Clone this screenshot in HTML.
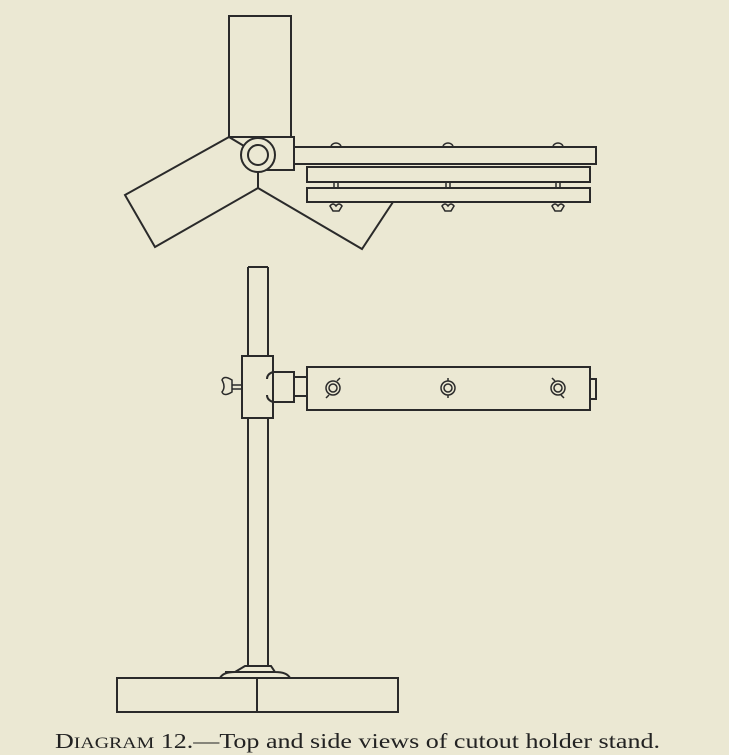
<!DOCTYPE html>
<html><head><meta charset="utf-8"><style>
html,body{margin:0;padding:0;background:#ebe8d3;}
svg{display:block}
</style></head><body>
<svg width="729" height="755" viewBox="0 0 729 755" xmlns="http://www.w3.org/2000/svg">
<rect width="729" height="755" fill="#ebe8d3"/>
<g fill="none" stroke="#2a2a2a" stroke-width="2" stroke-linejoin="miter">
<!-- top view -->
<rect x="229" y="16" width="62" height="121"/>
<polyline points="229,137 125,195 155,247 258,188"/>
<polyline points="258,188 362,249 393,202"/>
<line x1="258" y1="172" x2="258" y2="188"/>
<line x1="229" y1="137" x2="244" y2="146"/>
<rect x="258" y="137" width="36" height="33" fill="#ebe8d3"/>
<circle cx="258" cy="155" r="17" fill="#ebe8d3"/>
<circle cx="258" cy="155" r="10"/>
<rect x="294" y="147" width="302" height="17" fill="#ebe8d3"/>
<rect x="307" y="167" width="283" height="15" fill="#ebe8d3"/>
<rect x="307" y="188" width="283" height="14" fill="#ebe8d3"/>
<g stroke-width="1.5">
<path d="M331,147 a5,4 0 0 1 10,0"/><path d="M443,147 a5,4 0 0 1 10,0"/><path d="M553,147 a5,4 0 0 1 10,0"/>
<rect x="334" y="182" width="4" height="6"/><rect x="446" y="182" width="4" height="6"/><rect x="556" y="182" width="4" height="6"/>
<path d="M330,206 q3,-4 6,0 q3,-4 6,0 l-3,5 h-6 z"/>
<path d="M442,206 q3,-4 6,0 q3,-4 6,0 l-3,5 h-6 z"/>
<path d="M552,206 q3,-4 6,0 q3,-4 6,0 l-3,5 h-6 z"/>
</g>
<!-- side view -->
<line x1="248" y1="267" x2="248" y2="356"/>
<line x1="268" y1="267" x2="268" y2="356"/>
<line x1="248" y1="267" x2="268" y2="267"/>
<line x1="248" y1="418" x2="248" y2="666"/>
<line x1="268" y1="418" x2="268" y2="666"/>
<rect x="242" y="356" width="31" height="62"/>
<path d="M273,372 h21 v30 h-21" />
<path d="M273,372 q-6,2 -6,7 M273,402 q-6,-2 -6,-7"/>
<rect x="294" y="377" width="13" height="19"/>
<rect x="307" y="367" width="283" height="43"/>
<rect x="590" y="379" width="6" height="20"/>
<path d="M232,385 h10 M232,389 h10" stroke-width="1.5"/>
<path d="M232,380 q-8,-5 -10,0 q4,7 0,12 q2,5 10,0 z" stroke-width="1.5"/>
<g stroke-width="1.5">
<circle cx="333" cy="388" r="7"/><circle cx="333" cy="388" r="4"/>
<path d="M337,381 l3,-3 M329,395 l-3,3"/>
<circle cx="448" cy="388" r="7"/><circle cx="448" cy="388" r="4"/>
<path d="M448,381 v-3 M448,395 v3"/>
<circle cx="558" cy="388" r="7"/><circle cx="558" cy="388" r="4"/>
<path d="M555,381 l-3,-3 M561,395 l3,3"/>
</g>
<!-- base -->
<path d="M245,666 h26 l4,6 q12,0 15,6 h-70 q3,-6 15,-6 z"/>
<line x1="225" y1="672" x2="275" y2="672"/>
<rect x="117" y="678" width="281" height="34"/>
<line x1="257" y1="678" x2="257" y2="712"/>
</g>
<text x="55" y="748" textLength="605" lengthAdjust="spacingAndGlyphs" font-family="'Liberation Serif',serif" font-size="21" fill="#222">D<tspan font-size="16">IAGRAM</tspan> 12.—Top and side views of cutout holder stand.</text>
</svg>
</body></html>
